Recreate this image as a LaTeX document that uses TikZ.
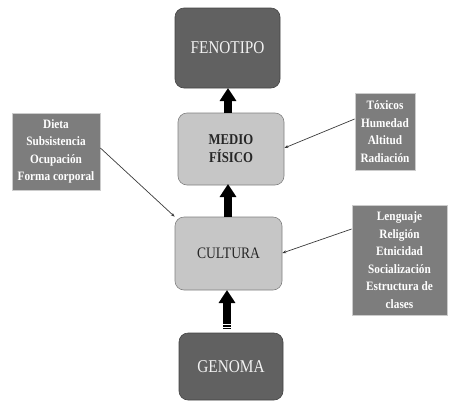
\documentclass[tikz,border=0pt]{standalone}
\usepackage{fontspec}
\setmainfont{Liberation Serif}
\newfontfamily\mainf{Liberation Serif}[FakeStretch=0.85]
\newfontfamily\sidef{Liberation Serif}[FakeStretch=0.88]
\usetikzlibrary{arrows.meta}
\definecolor{darkbox}{HTML}{616161}
\definecolor{lightbox}{HTML}{C6C6C6}
\definecolor{sidebox}{HTML}{7D7D7D}
\definecolor{linec}{HTML}{3A3A3A}
\tikzset{
  darkstyle/.style={draw=darkbox!70!black, line width=0.6pt, fill=darkbox, rounded corners=9pt, text=white!90!gray, font=\mainf\fontsize{18}{20}\selectfont},
  lightstyle/.style={draw=gray, line width=0.6pt, fill=lightbox, rounded corners=9pt, text=black!85, align=center},
  sidestyle/.style={draw=gray!40, line width=0.8pt, fill=sidebox, text=white, align=center, font=\sidef\bfseries\fontsize{12.8}{17.5}\selectfont},
  bigarrow/.style={line width=8pt, black, -{Triangle[width=16pt,length=13pt]}},
  thinarrow/.style={linec, line width=0.7pt, -{Stealth[length=4pt,width=3pt]}}
}
\begin{document}
\begin{tikzpicture}[x=1pt,y=-1pt]
\useasboundingbox (0,0) rectangle (449,402);
\node[darkstyle, minimum width=105pt, minimum height=80pt] (feno) at (227.5,48) {FENOTIPO};
\node[lightstyle, minimum width=106pt, minimum height=72pt, font=\mainf\bfseries\fontsize{15}{18}\selectfont] (medio) at (231,149) {MEDIO\\FÍSICO};
\node[lightstyle, minimum width=107pt, minimum height=73pt, font=\mainf\fontsize{16}{18}\selectfont] (cult) at (228.5,253.5) {CULTURA};
\node[darkstyle, minimum width=104pt, minimum height=67pt] (geno) at (231,366.5) {GENOMA};
\node[sidestyle, minimum width=88pt, minimum height=77pt] (dieta) at (56,151.5) {Dieta\\Subsistencia\\Ocupación\\Forma corporal};
\node[sidestyle, minimum width=60pt, minimum height=77pt] (toxi) at (385,131.5) {Tóxicos\\Humedad\\Altitud\\Radiación};
\node[sidestyle, minimum width=95pt, minimum height=110pt] (leng) at (399.5,260) {Lenguaje\\Religión\\Etnicidad\\Socialización\\Estructura de\\clases};
\coordinate (a1s) at (228,113);
\coordinate (a1e) at (228,88);
\coordinate (a2s) at (228,217);
\coordinate (a2e) at (228,184);
\coordinate (a3s) at (227,329);
\coordinate (a3e) at (227,290);
\draw[bigarrow] (a1s) -- (a1e);
\draw[bigarrow] (a2s) -- (a2e);
\draw[bigarrow] (a3s) -- (a3e);
\fill[white] (222,323.6) rectangle (232,324.8);
\fill[white] (222,326.6) rectangle (232,327.6);
\draw[thinarrow] (dieta.east |- 0,148) -- (cult.north west);
\draw[thinarrow] (toxi.west |- 0,119) -- (medio.east |- 0,148);
\draw[thinarrow] (leng.west |- 0,229) -- (cult.east |- 0,253);
\end{tikzpicture}
\end{document}
